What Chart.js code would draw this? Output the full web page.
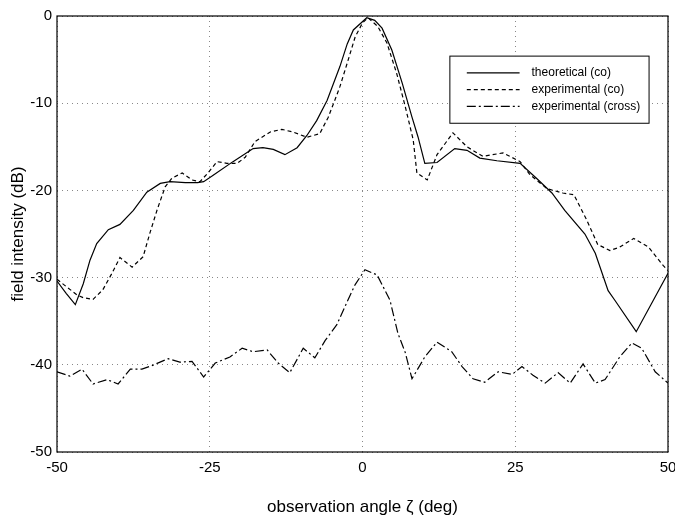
<!DOCTYPE html>
<html>
<head>
<meta charset="utf-8">
<script src="https://cdn.jsdelivr.net/npm/chart.js@4/dist/chart.umd.min.js"></script>
<style>
html,body{margin:0;padding:0;background:#fff;}
#wrap{width:675px;height:519px;position:relative;}
</style>
</head>
<body>
<div id="wrap"><canvas id="c" width="675" height="519"></canvas></div>
<script>
const seriesNames = ["theoretical (co)", "experimental (co)", "experimental (cross)"];
const xTicks = [-50, -25, 0, 25, 50];
const yTicks = [-50, -40, -30, -20, -10, 0];

const theoAngle = [-50,-48.5,-47,-45.7,-44.6,-43.5,-41.6,-39.7,-37.5,-35.3,-33.1,-31.5,-29,-27,-26,-24.5,-21.2,-17.9,-16.3,-14.6,-12.7,-10.7,-9.1,-7.5,-5.8,-3.7,-2.5,-1.5,0.7,2,3.2,4.8,6.5,8.1,9.1,10.2,12.2,15.1,17.1,19.2,22,25.8,28.6,31,33.1,36.4,38.1,40.2,41.3,44.8,50];
const theoDb = [-30.4,-31.8,-33.1,-30.7,-28,-26.1,-24.5,-23.9,-22.3,-20.2,-19.2,-19,-19.1,-19.1,-19,-18.3,-16.7,-15.2,-15.1,-15.3,-15.9,-15.1,-13.7,-12,-9.7,-5.8,-3.2,-1.6,-0.2,-0.5,-1.4,-3.9,-7.7,-11.6,-13.9,-16.9,-16.8,-15.2,-15.4,-16.3,-16.6,-16.9,-18.7,-20.3,-22.3,-25,-27.2,-31.5,-32.6,-36.2,-29.5];

const expCoAngle = [-50,-46.7,-45.7,-44.1,-42.5,-41,-39.7,-37.7,-35.9,-34.8,-33.6,-32.3,-31.2,-29.5,-27.9,-26.6,-25.3,-23.8,-22.2,-20.5,-19.2,-17.6,-15.1,-13.2,-11.4,-9.1,-7,-5.6,-4.5,-3.7,-2.5,-1.2,0,0.9,2.5,4,5.6,7,8.3,8.9,10.6,12.2,14.8,17.1,19.7,23,25.8,27.4,30.2,32.8,34.6,36.7,38.5,40.5,42.1,44.4,46.8,49.2,50];
const expCoDb = [-30.2,-32,-32.3,-32.5,-31.4,-29.5,-27.7,-28.8,-27.6,-24.9,-22.2,-19.6,-18.6,-18,-18.8,-19,-18,-16.7,-16.9,-16.9,-16.2,-14.4,-13.3,-13,-13.3,-13.9,-13.5,-11.6,-9.6,-8.1,-5.4,-2.4,-0.8,-0.2,-1.2,-3.1,-6.6,-10.4,-14.2,-18,-18.8,-15.9,-13.4,-15,-16.1,-15.7,-16.7,-18.2,-19.8,-20.3,-20.5,-23.4,-26.2,-26.9,-26.5,-25.5,-26.5,-28.6,-29.2];

const expCrossAngle = [-50,-47.9,-45.9,-44.1,-41.8,-40,-38,-36.1,-34.5,-31.8,-29.9,-27.9,-26,-24.1,-21.7,-19.7,-17.9,-15.6,-13.8,-11.9,-9.7,-7.8,-6.1,-4.2,-2.4,-1.2,0.4,2.4,4.5,5.8,7,8.1,10.2,12.2,14.6,16.3,18.1,20,22.2,24.5,26.1,27.9,29.9,32,34,36.1,38.1,39.7,42.1,44.1,45.7,47.9,50];
const expCrossDb = [-40.8,-41.3,-40.5,-42.2,-41.7,-42.2,-40.5,-40.5,-40.1,-39.3,-39.7,-39.6,-41.4,-39.8,-39.1,-38.1,-38.5,-38.3,-39.8,-40.9,-38.1,-39.2,-37.2,-35.4,-32.6,-30.8,-29.1,-29.7,-32.6,-36.4,-38.6,-41.6,-39.1,-37.4,-38.5,-40.2,-41.6,-42,-40.8,-41.1,-40.2,-41.2,-42.1,-40.9,-42.1,-39.9,-42.1,-41.7,-39.1,-37.5,-38.1,-40.8,-42.1];

function pts(xs, ys){ return xs.map((x,i)=>({x:x, y:ys[i]})); }

const FONT = "'Liberation Sans', Arial, sans-serif";

const framePlugin = {
  id: 'frame',
  afterDatasetsDraw(chart){
    const {ctx, chartArea:a} = chart;
    ctx.save();
    ctx.strokeStyle = '#000';
    ctx.lineWidth = 1.2;
    ctx.setLineDash([]);
    ctx.strokeRect(a.left, a.top, a.right - a.left, a.bottom - a.top);
    ctx.restore();
  }
};

const legendPlugin = {
  id: 'boxLegend',
  afterDraw(chart){
    const {ctx, chartArea:a} = chart;
    const w = a.right - a.left, h = a.bottom - a.top;
    const bx = a.left + w*0.643, by = a.top + h*0.092;
    const bw = w*0.326, bh = h*0.154;
    ctx.save();
    ctx.fillStyle = '#fff';
    ctx.fillRect(bx, by, bw, bh);
    ctx.strokeStyle = '#000';
    ctx.lineWidth = 1;
    ctx.setLineDash([]);
    ctx.strokeRect(bx, by, bw, bh);
    ctx.font = "12px " + FONT;
    ctx.textBaseline = 'middle';
    ctx.fillStyle = '#000';
    chart.data.datasets.forEach((ds, i) => {
      const yy = by + bh*0.25 + i*bh*0.25;
      ctx.beginPath();
      ctx.setLineDash(ds.borderDash || []);
      ctx.lineWidth = ds.borderWidth;
      ctx.moveTo(bx + bw*0.085, yy);
      ctx.lineTo(bx + bw*0.35, yy);
      ctx.stroke();
      ctx.setLineDash([]);
      ctx.fillText(ds.label, bx + bw*0.41, yy);
    });
    ctx.restore();
  }
};

new Chart(document.getElementById('c'), {
  type: 'scatter',
  data: {
    datasets: [
      { label: seriesNames[0], data: pts(theoAngle, theoDb), showLine: true, borderColor: '#000', borderWidth: 1.2, pointRadius: 0, borderDash: [], tension: 0 },
      { label: seriesNames[1], data: pts(expCoAngle, expCoDb), showLine: true, borderColor: '#000', borderWidth: 1.2, pointRadius: 0, borderDash: [4, 3], tension: 0 },
      { label: seriesNames[2], data: pts(expCrossAngle, expCrossDb), showLine: true, borderColor: '#000', borderWidth: 1.2, pointRadius: 0, borderDash: [9, 3, 2, 3], tension: 0 }
    ]
  },
  options: {
    responsive: false,
    animation: false,
    devicePixelRatio: 1,
    layout: { padding: { top: 16, right: 7, left: 0, bottom: 0 } },
    plugins: { legend: { display: false }, tooltip: { enabled: false } },
    scales: {
      x: {
        type: 'linear', min: -50, max: 50,
        afterBuildTicks(s){ s.ticks = xTicks.map(v => ({value: v})); },
        afterFit(s){ s.height = 67; s.paddingLeft = 0; s.paddingRight = 0; },
        ticks: { color: '#000', font: { family: FONT, size: 15 }, padding: 7, maxRotation: 0 },
        grid: { color: '#888', lineWidth: 1, drawTicks: false },
        border: { display: false, dash: [1, 4] },
        title: { display: true, text: 'observation angle ζ (deg)', color: '#000', font: { family: FONT, size: 17 }, padding: { top: 0, bottom: 1 } }
      },
      y: {
        type: 'linear', min: -50, max: 0,
        afterBuildTicks(s){ s.ticks = yTicks.map(v => ({value: v})); },
        afterFit(s){ s.width = 57; s.paddingTop = 0; s.paddingBottom = 0; },
        ticks: { color: '#000', font: { family: FONT, size: 15 }, padding: 5 },
        grid: { color: '#888', lineWidth: 1, drawTicks: false },
        border: { display: false, dash: [1, 4] },
        title: { display: true, text: 'field intensity (dB)', color: '#000', font: { family: FONT, size: 17 }, padding: { top: 8, bottom: 0 } }
      }
    }
  },
  plugins: [framePlugin, legendPlugin]
});
</script>
</body>
</html>
